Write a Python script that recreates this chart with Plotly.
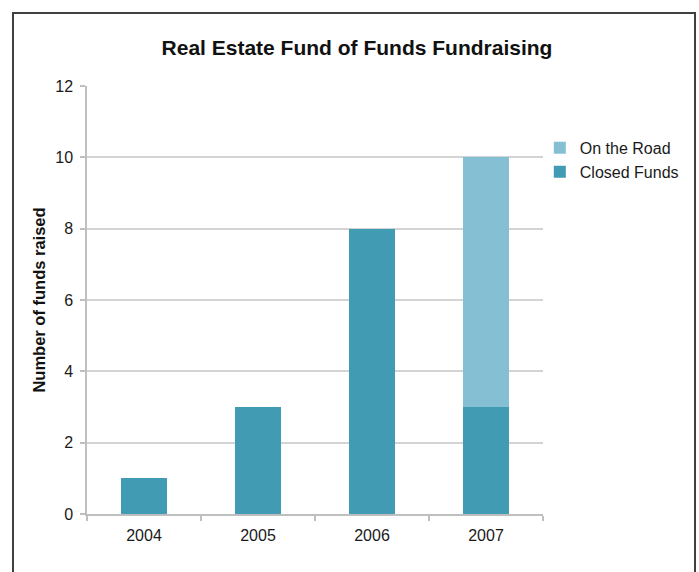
import plotly.graph_objects as go

years = ["2004", "2005", "2006", "2007"]
closed_funds = [1, 3, 8, 3]
on_the_road = [0, 0, 0, 7]
y_ticks = [0, 2, 4, 6, 8, 10, 12]

FONT = "Liberation Sans, Arial, sans-serif"

fig = go.Figure()
fig.add_trace(go.Bar(x=years, y=closed_funds, name="Closed Funds",
                     marker=dict(color="#409BB3", line=dict(width=0))))
fig.add_trace(go.Bar(x=years, y=on_the_road, name="On the Road",
                     marker=dict(color="#84BFD4", line=dict(width=0))))

fig.update_layout(
    width=699, height=572,
    margin=dict(l=87, r=156, t=86, b=58),
    paper_bgcolor="white", plot_bgcolor="white",
    barmode="stack", bargap=0.6,
    font=dict(family=FONT, color="#1A1A1A", size=16),
    title=dict(text="<b>Real Estate Fund of Funds Fundraising</b>",
               x=357 / 699, xref="container", xanchor="center",
               y=1 - 48 / 572, yref="container", yanchor="middle",
               font=dict(size=21, color="#111111")),
    showlegend=True,
    legend=dict(x=0.993, xanchor="left", y=0.895, yanchor="top",
                traceorder="reversed", font=dict(size=16, color="#1A1A1A"),
                itemwidth=30, tracegroupgap=0, bgcolor="rgba(0,0,0,0)"),
    xaxis=dict(type="category", showline=True, linecolor="#BFBFBF", linewidth=1.5,
               ticks="outside", tickson="boundaries", ticklen=5, tickcolor="#BFBFBF",
               tickwidth=1.5, showgrid=False, ticklabelstandoff=6,
               tickfont=dict(size=16, color="#1A1A1A")),
    yaxis=dict(range=[0, 12], tickvals=y_ticks, showline=True, linecolor="#BFBFBF",
               linewidth=1.5, ticks="outside", ticklen=5, tickcolor="#BFBFBF",
               tickwidth=1.5, showgrid=True, gridcolor="#D4D4D4", gridwidth=1.5,
               zeroline=False, ticklabelstandoff=4,
               tickfont=dict(size=16, color="#1A1A1A"),
               title=dict(text="<b>Number of funds raised</b>", standoff=5,
                          font=dict(size=16.5, color="#111111"))),
)

fig.add_shape(type="rect", xref="paper", yref="paper",
              x0=(13 - 87) / 456, x1=(695 - 87) / 456,
              y0=(514 - 590) / 428, y1=(514 - 13) / 428,
              line=dict(color="#404040", width=2), fillcolor="rgba(0,0,0,0)",
              layer="above")

fig.write_html("out.html")
